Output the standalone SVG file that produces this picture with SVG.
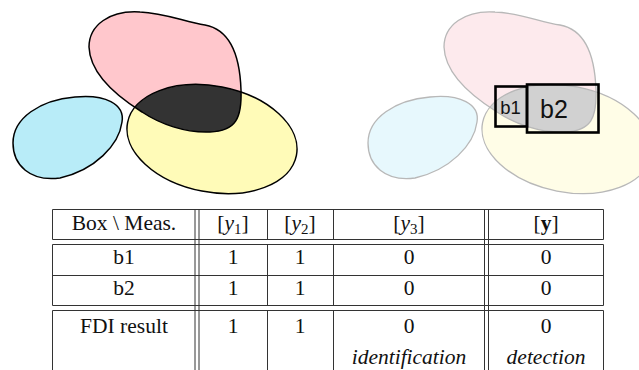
<svg xmlns="http://www.w3.org/2000/svg" xmlns:xlink="http://www.w3.org/1999/xlink" width="639" height="370" viewBox="0 0 639 370">
  <style>
    .txt { font-family: "Liberation Serif", "Times New Roman", serif; font-size: 21.5px; fill: #111; text-anchor: middle; }
    .it { font-style: italic; }
    .sub { font-size: 15px; font-style: normal; }
    .sans { font-family: "Liberation Sans", Arial, sans-serif; fill: #111; text-anchor: middle; }
    .rule { stroke: #333; stroke-width: 1; fill: none; }
    .edge { stroke: #000; stroke-width: 1.5; fill: none; }
    .edge-faint { stroke: #b8b8b8; stroke-width: 1.3; fill: none; }
    .box { stroke: #000; stroke-width: 2.6; fill: none; }
  </style>
  <defs>
    <path id="blob-blue" d="M 13,143 C 13,118 40,100 75,97 C 105,94 125,104 122,122 C 119,145 95,170 60,178 C 30,182 13,165 13,143 Z"/>
    <path id="blob-pink" d="M 89,47 C 89,25 110,10 140,12 C 165,13 185,22 205,25 C 232,30 240,60 241,90 C 242,118 236,131 210,132 C 185,133 160,124 142,112 C 118,97 90,75 89,47 Z"/>
    <ellipse id="blob-yellow" cx="212" cy="139" rx="86" ry="53" transform="rotate(11 212 139)"/>
    <clipPath id="clip-yellow">
      <use xlink:href="#blob-yellow"/>
    </clipPath>
  </defs>

  <!-- left panel: three regions, overlap shaded dark -->
  <g id="sets-left">
    <use xlink:href="#blob-blue" fill="#b8ecf8"/>
    <use xlink:href="#blob-yellow" fill="#fffbb8"/>
    <use xlink:href="#blob-pink" fill="#ffc7cc"/>
    <use xlink:href="#blob-pink" fill="#333333" clip-path="url(#clip-yellow)"/>
    <use xlink:href="#blob-blue" class="edge"/>
    <use xlink:href="#blob-yellow" class="edge"/>
    <use xlink:href="#blob-pink" class="edge"/>
  </g>

  <!-- right panel: faded regions with boxes b1, b2 -->
  <g id="sets-right" transform="translate(355,0)">
    <use xlink:href="#blob-blue" fill="#e7f8fd"/>
    <use xlink:href="#blob-yellow" fill="#fffde7"/>
    <use xlink:href="#blob-pink" fill="#fdeaed"/>
    <use xlink:href="#blob-pink" fill="#d1d1d1" clip-path="url(#clip-yellow)"/>
    <use xlink:href="#blob-blue" class="edge-faint"/>
    <use xlink:href="#blob-yellow" class="edge-faint"/>
    <use xlink:href="#blob-pink" class="edge-faint"/>
  </g>

  <g id="box-b1">
    <rect class="box" x="495.5" y="86.5" width="31.5" height="40"/>
    <text class="sans" x="510.5" y="113.5" font-size="18.5">b1</text>
  </g>
  <g id="box-b2">
    <rect class="box" x="527" y="84.5" width="71.5" height="48"/>
    <text class="sans" x="554" y="117.5" font-size="25">b2</text>
  </g>

  <!-- table rules -->
  <g id="table-rules">
    <!-- horizontal -->
    <path class="rule" d="M52.5,209.5 H603.5 M52.5,239.5 H603.5 M52.5,244.5 H603.5 M52.5,275.5 H603.5 M52.5,305.5 H603.5 M52.5,310.5 H603.5"/>
    <!-- outer and single vertical rules, broken between blocks -->
    <path class="rule" d="M52.5,209.5 V239.5 M52.5,244.5 V305.5 M52.5,310.5 V370
                          M603.5,209.5 V239.5 M603.5,244.5 V305.5 M603.5,310.5 V370
                          M267.5,209.5 V239.5 M267.5,244.5 V305.5 M267.5,310.5 V370
                          M333.5,209.5 V239.5 M333.5,244.5 V305.5 M333.5,310.5 V370"/>
    <!-- double vertical rules -->
    <path class="rule" d="M195,209.5 V370 M199,209.5 V370 M484.5,209.5 V370 M488.5,209.5 V370"/>
  </g>

  <g id="table-text">
    <text class="txt" x="124" y="230">Box \ Meas.</text>
    <text class="txt" x="233" y="230">[<tspan class="it">y</tspan><tspan class="sub" dy="4">1</tspan><tspan dy="-4">]</tspan></text>
    <text class="txt" x="300" y="230">[<tspan class="it">y</tspan><tspan class="sub" dy="4">2</tspan><tspan dy="-4">]</tspan></text>
    <text class="txt" x="409" y="230">[<tspan class="it">y</tspan><tspan class="sub" dy="4">3</tspan><tspan dy="-4">]</tspan></text>
    <text class="txt" x="546" y="230">[<tspan font-weight="bold">y</tspan>]</text>

    <text class="txt" x="124" y="264">b1</text>
    <text class="txt" x="233" y="264">1</text>
    <text class="txt" x="300" y="264">1</text>
    <text class="txt" x="409" y="264">0</text>
    <text class="txt" x="546" y="264">0</text>

    <text class="txt" x="124" y="295">b2</text>
    <text class="txt" x="233" y="295">1</text>
    <text class="txt" x="300" y="295">1</text>
    <text class="txt" x="409" y="295">0</text>
    <text class="txt" x="546" y="295">0</text>

    <text class="txt" x="124" y="333">FDI result</text>
    <text class="txt" x="233" y="333">1</text>
    <text class="txt" x="300" y="333">1</text>
    <text class="txt" x="409" y="333">0</text>
    <text class="txt" x="546" y="333">0</text>
    <text class="txt it" x="409" y="364">identification</text>
    <text class="txt it" x="546" y="364">detection</text>
  </g>
</svg>
